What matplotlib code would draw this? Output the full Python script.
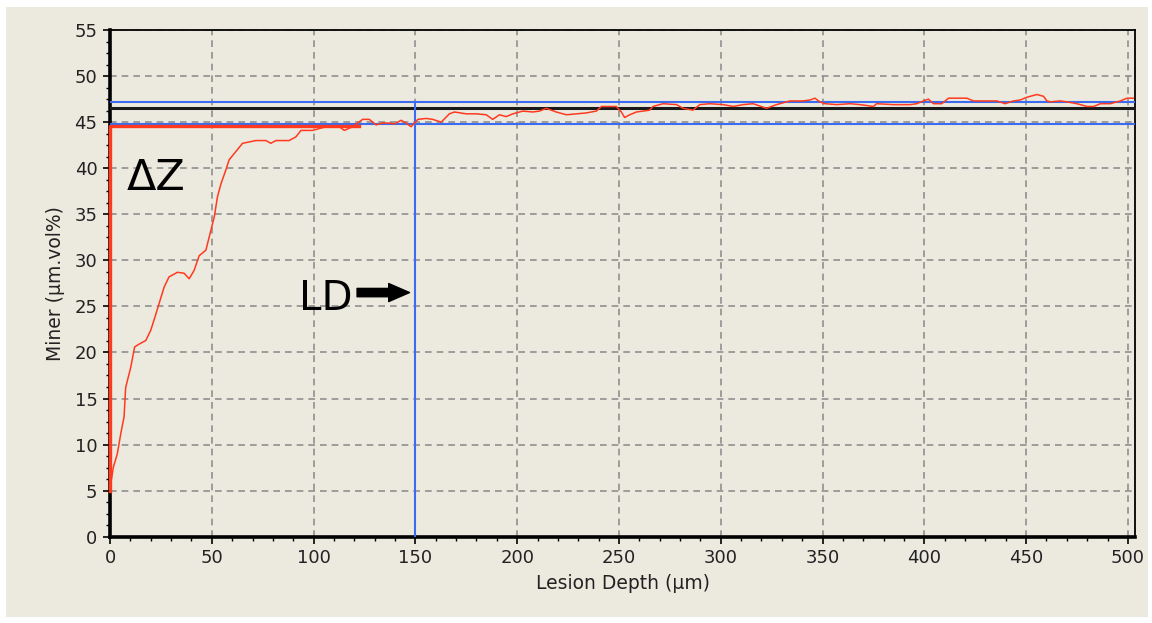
import numpy as np
import matplotlib
matplotlib.use("Agg")
import matplotlib.pyplot as plt
from matplotlib.patches import Rectangle
from matplotlib.ticker import MultipleLocator

# mineral profile
depth = [0, 0.5, 1.6, 3.6, 5.3, 6.9, 7.7, 10.2, 12.1, 14.3, 17.6, 20.0, 21.6,
         24.1, 26.6, 29.0, 33.1, 36.4, 38.9, 41.3, 43.8, 47.1, 48.7, 51.2, 52.8,
         54.5, 56.9, 58.5, 61.8, 65.1, 71.7, 76.6, 79.0, 81.5, 88.0, 91.3, 93.8,
         99.5, 102.8, 106.1, 112.6, 115.1, 119.2, 124.1, 127.4, 130.7, 133.9,
         137.2, 139.7, 143.0, 145.4, 147.9, 151.2, 155.3, 158.5, 162.7, 166.7,
         169.2, 175.0, 179.9, 184.8, 188.0, 191.3, 194.6, 197.9, 202.8, 207.7,
         211.0, 214.3, 219.2, 224.2, 229.1, 234.0, 238.9, 241.4, 248.7, 251.2,
         252.8, 255.3, 258.6, 265.1, 266.7, 271.7, 278.3, 281.5, 286.4, 289.7,
         294.6, 301.2, 306.1, 311.0, 315.9, 322.5, 327.4, 334.0, 340.5, 343.8,
         346.3, 348.7, 351.2, 357.0, 363.5, 368.4, 375.0, 376.6, 384.8, 393.0,
         396.3, 399.6, 402.0, 404.5, 408.6, 411.9, 420.9, 424.1, 432.4, 435.7,
         439.7, 443.8, 447.1, 450.4, 455.3, 458.6, 460.2, 461.9, 466.8, 470.1,
         475.0, 479.9, 483.2, 486.5, 491.4, 496.3, 499.6, 502.7]
mineral = [5.0, 5.9, 7.5, 9.0, 11.2, 13.0, 16.2, 18.4, 20.6, 20.9, 21.3, 22.4,
           23.5, 25.3, 27.1, 28.2, 28.7, 28.6, 28.0, 28.9, 30.5, 31.1, 32.5,
           34.7, 36.9, 38.3, 39.8, 40.9, 41.8, 42.7, 43.0, 43.0, 42.7, 43.0,
           43.0, 43.4, 44.1, 44.1, 44.3, 44.5, 44.5, 44.1, 44.5, 45.3, 45.3,
           44.7, 44.9, 44.9, 44.8, 45.2, 44.9, 44.5, 45.3, 45.4, 45.3, 45.0,
           45.9, 46.1, 45.9, 45.9, 45.8, 45.3, 45.8, 45.6, 45.9, 46.2, 46.1,
           46.2, 46.5, 46.1, 45.8, 45.9, 46.0, 46.2, 46.7, 46.7, 46.1, 45.5,
           45.8, 46.1, 46.3, 46.7, 47.0, 46.9, 46.5, 46.3, 46.9, 47.0, 46.9,
           46.7, 46.9, 47.0, 46.5, 46.9, 47.3, 47.3, 47.4, 47.6, 47.2, 47.0,
           46.9, 47.0, 46.9, 46.7, 47.0, 46.9, 46.9, 47.0, 47.3, 47.5, 47.0,
           47.0, 47.6, 47.6, 47.3, 47.3, 47.3, 47.0, 47.3, 47.4, 47.7, 48.0,
           47.8, 47.3, 47.2, 47.3, 47.2, 47.0, 46.7, 46.7, 47.0, 47.0, 47.3,
           47.6, 47.6]

upper_blue = 47.2
sound_level = 46.5
lower_blue = 44.85
dz_level = 44.6
dz_end = 122.5
dz_start = 5.0
lesion_depth = 150

beige = "#ECE9DF"
red = "#FF3A1E"
blue = "#3A6BF0"

fig = plt.figure(figsize=(11.52, 6.23), dpi=100, facecolor="white")
fig.patches.append(Rectangle((6 / 1152, 6 / 623), 1142 / 1152, 610 / 623,
                             transform=fig.transFigure, facecolor=beige,
                             edgecolor="none", zorder=-10))
ax = fig.add_axes([110 / 1152, (623 - 536.7) / 623, 1025 / 1152, 506.7 / 623])
ax.set_facecolor(beige)

ax.set_xlim(0, 503.5)
ax.set_ylim(0, 55)
ax.xaxis.set_major_locator(MultipleLocator(50))
ax.xaxis.set_minor_locator(MultipleLocator(10))
ax.yaxis.set_major_locator(MultipleLocator(5))
ax.yaxis.set_minor_locator(MultipleLocator(1.25))
ax.grid(True, which="major", color="#8f8f8f", linestyle=(0, (4, 3)), lw=1.2)
ax.set_axisbelow(True)

ax.tick_params(which="major", direction="out", length=5, width=1.2,
               labelsize=13, pad=4, labelcolor="#222222")
ax.tick_params(which="minor", direction="out", length=3, width=1.0)
for s in ["left", "bottom"]:
    ax.spines[s].set_linewidth(2.6)
for s in ["top", "right"]:
    ax.spines[s].set_linewidth(1.3)

ax.set_xlabel("Lesion Depth (µm)", fontsize=13.5, labelpad=5, color="#222222")
ax.set_ylabel("Miner (µm.vol%)", fontsize=13.5, labelpad=7, color="#222222")

# reference lines
ax.axhline(upper_blue, color=blue, lw=1.5, zorder=3)
ax.axhline(sound_level, color="#1a1a1a", lw=2.2, zorder=3)
ax.axhline(lower_blue, color=blue, lw=1.5, zorder=3)
ax.plot([lesion_depth, lesion_depth], [0, upper_blue], color=blue, lw=1.5, zorder=3)

# delta Z box
ax.plot([0, 0, dz_end], [dz_start, dz_level, dz_level], color=red, lw=2.4,
        zorder=4, clip_on=False)

ax.plot(depth, mineral, color=red, lw=1.1, zorder=5)

ax.text(8.4, 37.6, "ΔZ", fontsize=31, ha="left", va="baseline")
ax.text(93, 24.6, "LD", fontsize=29, ha="left", va="baseline")
ax.annotate("", xy=(148.5, 26.5), xytext=(120, 26.5),
            arrowprops=dict(arrowstyle="simple,head_length=0.75,head_width=0.65,tail_width=0.3",
                            mutation_scale=20, color="black"))

fig.savefig("out.png", dpi=100, facecolor=fig.get_facecolor())
